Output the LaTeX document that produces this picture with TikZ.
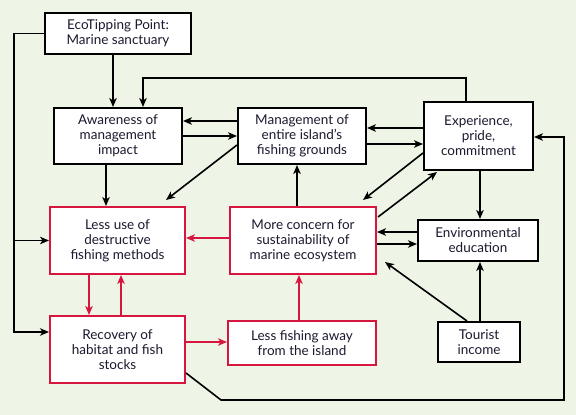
\documentclass[tikz,border=0pt]{standalone}
\usepackage{fontspec}
\setmainfont{Lato}
\usetikzlibrary{arrows.meta}
\definecolor{bgc}{HTML}{EEF5E6}
\definecolor{redc}{HTML}{D7163F}
\definecolor{txt}{HTML}{1A1A30}
\tikzset{
  box/.style={draw=black, line width=2pt, fill=white, align=center, inner sep=0pt,
    font=\fontsize{13.5}{15}\selectfont, text=txt},
  rbox/.style={box, draw=redc},
  arr/.style={line width=1.6pt, -{Stealth[length=9pt,width=7.5pt,inset=2.5pt]}},
  rarr/.style={arr, draw=redc, -{Stealth[length=9pt,width=7.5pt,inset=2.5pt,fill=redc]}},
  plain/.style={line width=1.6pt}
}
\begin{document}
\begin{tikzpicture}[x=1pt,y=-1pt]
\fill[bgc] (0,0) rectangle (576,415);
\useasboundingbox (0,0) rectangle (576,415);

\node[box, minimum width=146pt, minimum height=41pt] (eco) at (118,33.5) {EcoTipping Point:\\Marine sanctuary};
\node[box, minimum width=128pt, minimum height=56pt] (aware) at (118,136) {Awareness of\\management\\impact};
\node[box, minimum width=128pt, minimum height=56pt] (mgmt) at (302,136) {Management of\\entire island’s\\fishing grounds};
\node[box, minimum width=109pt, minimum height=68pt] (exp) at (478.5,136) {Experience,\\pride,\\commitment};
\node[rbox, minimum width=135pt, minimum height=67pt] (less) at (117.5,240.5) {Less use of\\destructive\\fishing methods};
\node[rbox, minimum width=135pt, minimum height=67pt] (rec) at (117.5,349.5) {Recovery of\\habitat and fish\\stocks};
\node[rbox, minimum width=146pt, minimum height=67pt] (more) at (303,240.5) {More concern for\\sustainability of\\marine ecosystem};
\node[rbox, minimum width=148pt, minimum height=44pt] (lfish) at (302,343) {Less fishing away\\from the island};
\node[box, minimum width=120pt, minimum height=41pt] (env) at (478,240.5) {Environmental\\education};
\node[box, minimum width=82pt, minimum height=40pt] (tour) at (479,342) {Tourist\\income};

\coordinate (lb) at (14,332);
\coordinate (t9) at (166,200);
\coordinate (t11) at (363,200);
\coordinate (s12) at (378,217);
\coordinate (t12) at (437,172);
\coordinate (t16) at (385,262);
\coordinate (c23) at (221,400);
\coordinate (r23) at (564,137);

% black connectors
\draw[arr] (eco.south -| 113,0) -- (aware.north -| 113,0);
\draw[arr] (eco.west) -| (lb) -- (rec.west |- lb);
\draw[arr] (less.west -| lb) -- (less.west);
\draw[arr] (exp.north -| 466,0) |- (143,78) -- (aware.north -| 143,0);
\draw[arr] (mgmt.west |- 0,121) -- (aware.east |- 0,121);
\draw[arr] (aware.east |- 0,136) -- (mgmt.west |- 0,136);
\draw[arr] (exp.west |- 0,128) -- (mgmt.east |- 0,128);
\draw[arr] (mgmt.east |- 0,144) -- (exp.west |- 0,144);
\draw[arr] (aware.south -| 106,0) -- (less.north -| 106,0);
\draw[arr] (mgmt.west |- 0,145) -- (t9);
\draw[arr] (more.north -| 297,0) -- (mgmt.south -| 297,0);
\draw[arr] (exp.west |- 0,153) -- (t11);
\draw[arr] (s12) -- (t12);
\draw[arr] (exp.south -| 480,0) -- (env.north -| 480,0);
\draw[arr] (env.west |- 0,232) -- (more.east |- 0,232);
\draw[arr] (more.east |- 0,244) -- (env.west |- 0,244);
\draw[arr] (tour.north -| 467,0) -- (t16);
\draw[arr] (tour.north -| 480,0) -- (env.south -| 480,0);
\draw[arr] (rec.east |- 0,373) -- (c23) -| (r23) -- (exp.east |- r23);

% red connectors
\draw[rarr] (more.west |- 0,238) -- (less.east |- 0,238);
\draw[rarr] (less.south -| 89,0) -- (rec.north -| 89,0);
\draw[rarr] (rec.north -| 121,0) -- (less.south -| 121,0);
\draw[rarr] (rec.east |- 0,342) -- (lfish.west |- 0,342);
\draw[rarr] (lfish.north -| 299,0) -- (more.south -| 299,0);
\end{tikzpicture}
\end{document}
